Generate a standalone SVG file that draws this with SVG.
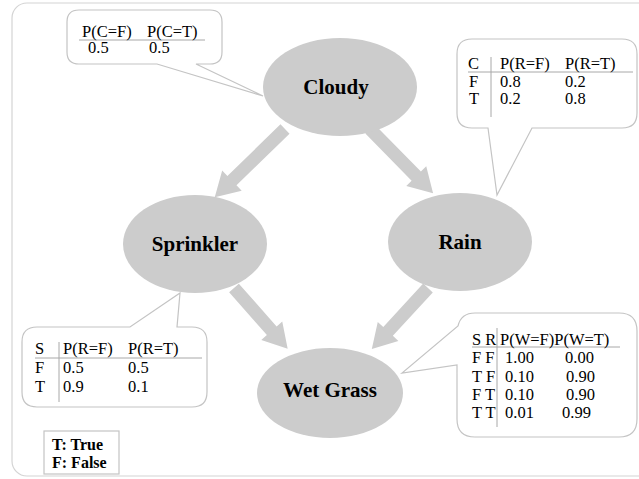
<svg xmlns="http://www.w3.org/2000/svg" width="639" height="479" viewBox="0 0 639 479">
<style>
.frame{fill:#fff;stroke:#d4d4d4;stroke-width:1.2}
.node{fill:#cccccc}
.lbl{font-weight:bold;font-size:21px;fill:#000;text-anchor:middle}
.arr{fill:#cccccc}
.call{fill:#fff;stroke:#c4c4c4;stroke-width:1.2}
.t{font-size:16.5px;fill:#000}
.rule{stroke:#a8a8a8;stroke-width:1;fill:none}
.leg{font-weight:bold;font-size:16px;fill:#000}
</style>
<rect class="frame" x="12" y="3" width="660" height="473" rx="15"/>

<g id="connectors">
<path class="arr" transform="translate(285,129) rotate(135.8)" d="M0,-6.5 H74 V-14 L98,0 L74,14 V6.5 H0 Z"/>
<path class="arr" transform="translate(370,129) rotate(45.5)" d="M0,-6.5 H66 V-14 L90,0 L66,14 V6.5 H0 Z"/>
<path class="arr" transform="translate(234,288) rotate(48.5)" d="M0,-6.5 H57 V-14 L81,0 L57,14 V6.5 H0 Z"/>
<path class="arr" transform="translate(428,288) rotate(132.6)" d="M0,-6.5 H59 V-14 L83,0 L59,14 V6.5 H0 Z"/>
</g>

<g font-family="'Liberation Serif', 'DejaVu Serif', serif">
<g id="cloudy">
<ellipse class="node" cx="340" cy="87" rx="77" ry="49"/>
<text class="lbl" x="336" y="94">Cloudy</text>
</g>
<g id="sprinkler">
<ellipse class="node" cx="195" cy="244" rx="72" ry="49"/>
<text class="lbl" x="195" y="251">Sprinkler</text>
</g>
<g id="rain">
<ellipse class="node" cx="460" cy="242" rx="72" ry="49"/>
<text class="lbl" x="460" y="249">Rain</text>
</g>
<g id="wetgrass">
<ellipse class="node" cx="330" cy="393" rx="73" ry="45"/>
<text class="lbl" x="330" y="397">Wet Grass</text>
</g>

<g id="cpt-cloudy">
<path class="call" d="M79,10 H210 Q222,10 222,22 V52 Q222,64 210,64 H196 L263,96 L157,64 H79 Q67,64 67,52 V22 Q67,10 79,10 Z"/>
<line class="rule" x1="79" y1="40" x2="205" y2="40"/>
<text class="t" x="82" y="37">P(C=F)</text>
<text class="t" x="147" y="37">P(C=T)</text>
<text class="t" x="88" y="53">0.5</text>
<text class="t" x="149" y="53">0.5</text>
</g>

<g id="cpt-rain">
<path class="call" d="M472,39 H622 Q637,39 637,54 V113 Q637,128 622,128 H532 L497,195 L488,128 H472 Q457,128 457,113 V54 Q457,39 472,39 Z"/>
<line class="rule" x1="468" y1="72" x2="633" y2="72"/>
<line class="rule" x1="491" y1="57" x2="491" y2="117"/>
<text class="t" x="468" y="69">C</text>
<text class="t" x="500" y="69">P(R=F)</text>
<text class="t" x="565" y="69">P(R=T)</text>
<text class="t" x="469" y="87">F</text>
<text class="t" x="500" y="87">0.8</text>
<text class="t" x="565" y="87">0.2</text>
<text class="t" x="469" y="104">T</text>
<text class="t" x="500" y="104">0.2</text>
<text class="t" x="565" y="104">0.8</text>
</g>

<g id="cpt-sprinkler">
<path class="call" d="M37,327 H130 L180,293 L177,327 H192 Q207,327 207,342 V392 Q207,407 192,407 H37 Q22,407 22,392 V342 Q22,327 37,327 Z"/>
<line class="rule" x1="35" y1="358" x2="202" y2="358"/>
<line class="rule" x1="59" y1="342" x2="59" y2="402"/>
<text class="t" x="35" y="354">S</text>
<text class="t" x="63" y="354">P(R=F)</text>
<text class="t" x="128" y="354">P(R=T)</text>
<text class="t" x="35" y="373">F</text>
<text class="t" x="63" y="373">0.5</text>
<text class="t" x="128" y="373">0.5</text>
<text class="t" x="35" y="392">T</text>
<text class="t" x="63" y="392">0.9</text>
<text class="t" x="128" y="392">0.1</text>
</g>

<g id="cpt-wetgrass">
<path class="call" d="M475,313 H619 Q637,313 637,331 V419 Q637,437 619,437 H475 Q457,437 457,419 V365 L402,373 L458,326 Q461,313 475,313 Z"/>
<line class="rule" x1="472" y1="347" x2="620" y2="347"/>
<line class="rule" x1="497" y1="328" x2="497" y2="427"/>
<text class="t" x="472" y="345">S R</text>
<text class="t" x="500" y="345">P(W=F)P(W=T)</text>
<text class="t" x="472" y="363">F F</text>
<text class="t" x="505" y="363">1.00</text>
<text class="t" x="565" y="363">0.00</text>
<text class="t" x="472" y="382">T F</text>
<text class="t" x="505" y="382">0.10</text>
<text class="t" x="566" y="382">0.90</text>
<text class="t" x="472" y="400">F T</text>
<text class="t" x="505" y="400">0.10</text>
<text class="t" x="566" y="400">0.90</text>
<text class="t" x="472" y="418">T T</text>
<text class="t" x="505" y="418">0.01</text>
<text class="t" x="562" y="418">0.99</text>
</g>

<g id="legend">
<rect x="44" y="431" width="75" height="43" fill="#fff" stroke="#c4c4c4" stroke-width="1.2"/>
<text class="leg" x="52" y="450">T: True</text>
<text class="leg" x="52" y="468">F: False</text>
</g>
</g>
</svg>
